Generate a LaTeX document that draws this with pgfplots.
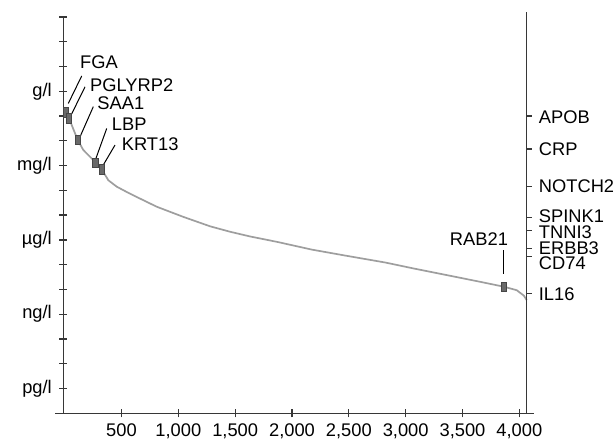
\documentclass[border=0pt]{standalone}
\usepackage{fontspec}
\setmainfont{Liberation Sans}
\usepackage{pgfplots}
\pgfplotsset{compat=1.18}

\definecolor{curvegray}{RGB}{158,158,158}
\definecolor{markgray}{RGB}{105,105,105}
\definecolor{markedge}{RGB}{70,70,70}
\definecolor{axisgray}{RGB}{55,55,55}

% small upright bar used to flag single proteins on the curve
\pgfdeclareplotmark{vbar}{%
  \pgfpathrectangle{\pgfpoint{-2.7bp}{-4.9bp}}{\pgfpoint{5.4bp}{9.8bp}}%
  \pgfusepathqfillstroke}

\newcommand{\lbl}{\fontsize{18.3bp}{21bp}\selectfont}

\pgfplotsset{
  base/.style={
    scale only axis, width=463.4bp, height=396.3bp,
    xmin=-12, xmax=4065, ymin=-13, ymax=3,
    axis line style={axisgray, line width=1.5bp},
    tick style={axisgray, line width=1.3bp},
    tick align=outside,
    ticklabel style={font=\lbl, text=black},
    clip=false,
  },
}

\begin{document}
\begin{tikzpicture}
\useasboundingbox (-63.3bp,-31.7bp) rectangle (552.7bp,413.3bp);

% left axis: concentration on a log10 scale (g/l = 0)
\begin{axis}[base,
  axis x line=bottom, axis y line=left,
  xtick pos=bottom, ytick pos=left,
  x axis line style={-, shorten <=-8bp, shorten >=-7bp},
  y axis line style={-},
  xtick={500,1000,...,4000},
  /pgf/number format/.cd, 1000 sep={,}, assume math mode=true, /pgfplots/.cd,
  xticklabel style={yshift=-3bp},
  major tick length=8bp, minor tick length=8bp,
  ytick={-12,-9,-6,-3,0},
  yticklabels={pg/l,ng/l,µg/l,mg/l,g/l},
  minor ytick={-13,-12,...,3},
  yticklabel style={xshift=-4bp},
]
  % ranked abundance curve
  \addplot[curvegray, line width=1.7bp, no marks] coordinates {
    (0,-0.70) (11,-0.86) (38,-1.08) (62,-1.36) (114,-1.96) (164,-2.37)
    (238,-2.71) (271,-2.89) (326,-3.15) (384,-3.59) (458,-3.85) (540,-4.05)
    (640,-4.28) (810,-4.66) (1044,-5.07) (1279,-5.45) (1455,-5.67)
    (1631,-5.86) (1880,-6.09) (2173,-6.39) (2466,-6.63) (2818,-6.91)
    (3067,-7.15) (3361,-7.42) (3654,-7.69) (3865,-7.89) (3977,-8.03)
    (4040,-8.25) (4065,-8.43)
  };
  % highlighted proteins
  \addplot[only marks, mark=vbar, mark options={fill=markgray, draw=markedge, line width=0.6bp}]
    coordinates {
    (11,-0.86) (38,-1.08) (114,-1.96) (271,-2.89) (326,-3.15) (3865,-7.89)
  };

  % leader lines and names
  \begin{scope}[line width=1bp]
    \draw (axis cs:32,-0.49) -- (axis cs:150,0.62);
    \draw (axis cs:62,-0.91) -- (axis cs:179,0.18);
    \draw (axis cs:135,-1.84) -- (axis cs:252,-0.62);
    \draw (axis cs:275,-2.71) -- (axis cs:370,-1.50);
    \draw (axis cs:334,-3.02) -- (axis cs:443,-2.17);
    \draw (axis cs:3865,-6.41) -- (axis cs:3865,-7.36);
  \end{scope}
  \begin{scope}[every node/.style={font=\lbl, inner sep=0pt, anchor=west}]
    \node at (axis cs:135,1.19) {FGA};
    \node at (axis cs:223,0.25) {PGLYRP2};
    \node at (axis cs:287,-0.49) {SAA1};
    \node at (axis cs:414,-1.32) {LBP};
    \node at (axis cs:501,-2.13) {KRT13};
    \node[anchor=center] at (axis cs:3645,-5.98) {RAB21};
  \end{scope}
\end{axis}

% right axis: reference proteins at their concentrations
\begin{axis}[base,
  hide x axis, xtick=\empty,
  axis y line*=right, ytick pos=right, tick align=outside,
  y axis line style={-, shorten >=-5bp},
  major tick length=5bp,
  ytick={-1.0,-2.33,-3.83,-5.09,-5.61,-6.35,-6.68,-8.16},
  yticklabels={},
]
  \begin{scope}[every node/.style={font=\lbl, inner sep=0pt, anchor=west, xshift=12bp}]
    \node at (axis cs:4065,-1.05) {APOB};
    \node at (axis cs:4065,-2.33) {CRP};
    \node at (axis cs:4065,-3.83) {NOTCH2};
    \node at (axis cs:4065,-5.03) {SPINK1};
    \node at (axis cs:4065,-5.67) {TNNI3};
    \node at (axis cs:4065,-6.33) {ERBB3};
    \node at (axis cs:4065,-6.95) {CD74};
    \node at (axis cs:4065,-8.18) {IL16};
  \end{scope}
\end{axis}
\end{tikzpicture}
\end{document}
